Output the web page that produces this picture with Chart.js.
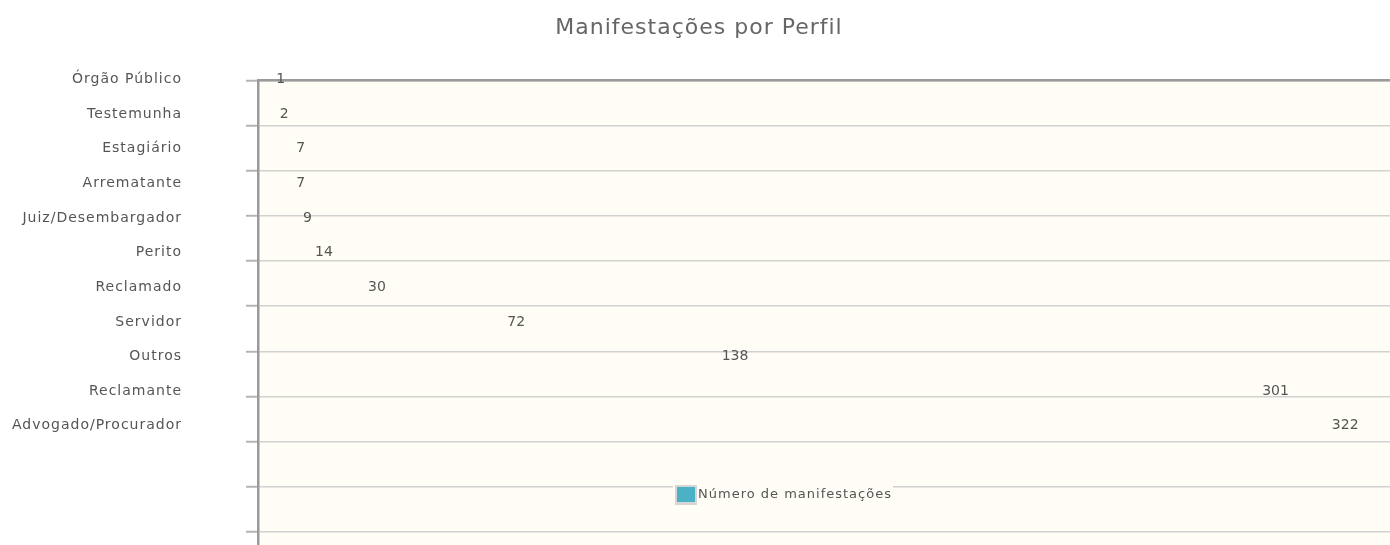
<!DOCTYPE html>
<html>
<head>
<meta charset="utf-8">
<script src="https://cdn.jsdelivr.net/npm/chart.js@4/dist/chart.umd.min.js"></script>
<style>
  html, body { margin: 0; padding: 0; background: #ffffff; overflow: hidden; }
  #wrap { width: 1390px; height: 580px; }
</style>
</head>
<body>
<div id="wrap"><canvas id="c" width="1390" height="580"></canvas></div>
<script>
const chartTitle = 'Manifestações por Perfil';
const seriesLabel = 'Número de manifestações';
const categories = ['Órgão Público', 'Testemunha', 'Estagiário', 'Arrematante', 'Juiz/Desembargador',
  'Perito', 'Reclamado', 'Servidor', 'Outros', 'Reclamante', 'Advogado/Procurador'];
const values = [1, 2, 7, 7, 9, 14, 30, 72, 138, 301, 322];
const seriesColor = '#4bb2c5';

Chart.defaults.font.family = "'DejaVu Sans', sans-serif";

const spacingPlugin = {
  id: 'spacing',
  beforeDraw(chart) { chart.ctx.letterSpacing = '1px'; }
};

const bgPlugin = {
  id: 'plotBg',
  beforeDraw(chart) {
    const a = chart.chartArea, ctx = chart.ctx;
    ctx.save();
    ctx.fillStyle = '#fffdf6';
    ctx.fillRect(a.left, a.top, a.right - a.left, a.bottom - a.top);
    ctx.restore();
  }
};

const valueLabels = {
  id: 'valueLabels',
  afterDatasetsDraw(chart) {
    const ctx = chart.ctx;
    const meta = chart.getDatasetMeta(0);
    ctx.save();
    ctx.letterSpacing = '0px';
    ctx.font = "14px 'DejaVu Sans', sans-serif";
    ctx.fillStyle = '#555555';
    ctx.textAlign = 'center';
    ctx.textBaseline = 'middle';
    meta.data.forEach((el, i) => {
      ctx.fillText(String(chart.data.datasets[0].data[i].x), el.x + 19.5, el.y);
    });
    ctx.restore();
  }
};

const legendPlugin = {
  id: 'customLegend',
  afterDraw(chart) {
    const ctx = chart.ctx;
    const x = 675, y = 485;
    ctx.save();
    ctx.letterSpacing = '1px';
    ctx.font = "13px 'DejaVu Sans', sans-serif";
    const label = chart.data.datasets[0].label;
    const tw = ctx.measureText(label).width;
    ctx.fillStyle = '#fffdf6';
    ctx.fillRect(x - 2, y - 1, 26 + tw, 22);
    ctx.fillStyle = '#d6d6d6';
    ctx.fillRect(x, y, 22, 20);
    ctx.fillStyle = seriesColor;
    ctx.fillRect(x + 2, y + 2, 18, 15);
    ctx.fillStyle = '#555555';
    ctx.textAlign = 'left';
    ctx.textBaseline = 'middle';
    ctx.fillText(label, x + 23, y + 9.5);
    ctx.restore();
  }
};

new Chart(document.getElementById('c'), {
  type: 'bar',
  data: {
    labels: categories,
    datasets: [{
      label: seriesLabel,
      data: values.map((v, i) => ({ x: v, y: i })),
      xAxisID: 'x',
      yAxisID: 'yl',
      backgroundColor: 'rgba(75,178,197,0)',
      borderWidth: 0,
      barThickness: 20
    }]
  },
  options: {
    responsive: false,
    animation: false,
    indexAxis: 'y',
    layout: { padding: { left: 8, right: 0, top: 0, bottom: 3 } },
    plugins: {
      legend: { display: false },
      tooltip: { enabled: false },
      title: {
        display: true,
        text: chartTitle,
        color: '#666666',
        font: { size: 22, weight: 'normal' },
        padding: { top: 15, bottom: 7 }
      }
    },
    scales: {
      x: {
        type: 'linear',
        position: 'top',
        min: 0,
        max: 341.4,
        grid: { display: false },
        ticks: { display: false },
        border: { display: true, color: '#9a9a9a', width: 2.5 },
        afterFit(s) { s.height = 32; }
      },
      y: {
        type: 'category',
        labels: categories,
        position: 'left',
        weight: 0,
        offset: true,
        grid: { offset: true, color: '#d2d2d2', lineWidth: 1.5, drawTicks: true, tickLength: 12, tickColor: '#b4b4b4', tickWidth: 2 },
        ticks: { display: false },
        border: { display: true, color: '#9a9a9a', width: 2.5 },
        afterFit(s) { s.width = 68; }
      },
      yl: {
        type: 'linear',
        position: 'left',
        weight: 1,
        reverse: true,
        offset: false,
        min: 0.029,
        max: 14.365,
        grid: { display: false, drawTicks: false, offset: false },
        border: { display: false },
        ticks: {
          autoSkip: false,
          padding: 8,
          color: '#555555',
          font: { size: 14 },
          callback: (v) => categories[v]
        },
        afterBuildTicks(s) { s.ticks = categories.map((_, i) => ({ value: i })); },
        afterFit(s) { s.width = 182; s.paddingTop = 0; s.paddingBottom = 0; }
      }
    }
  },
  plugins: [spacingPlugin, bgPlugin, valueLabels, legendPlugin]
});
</script>
</body>
</html>
